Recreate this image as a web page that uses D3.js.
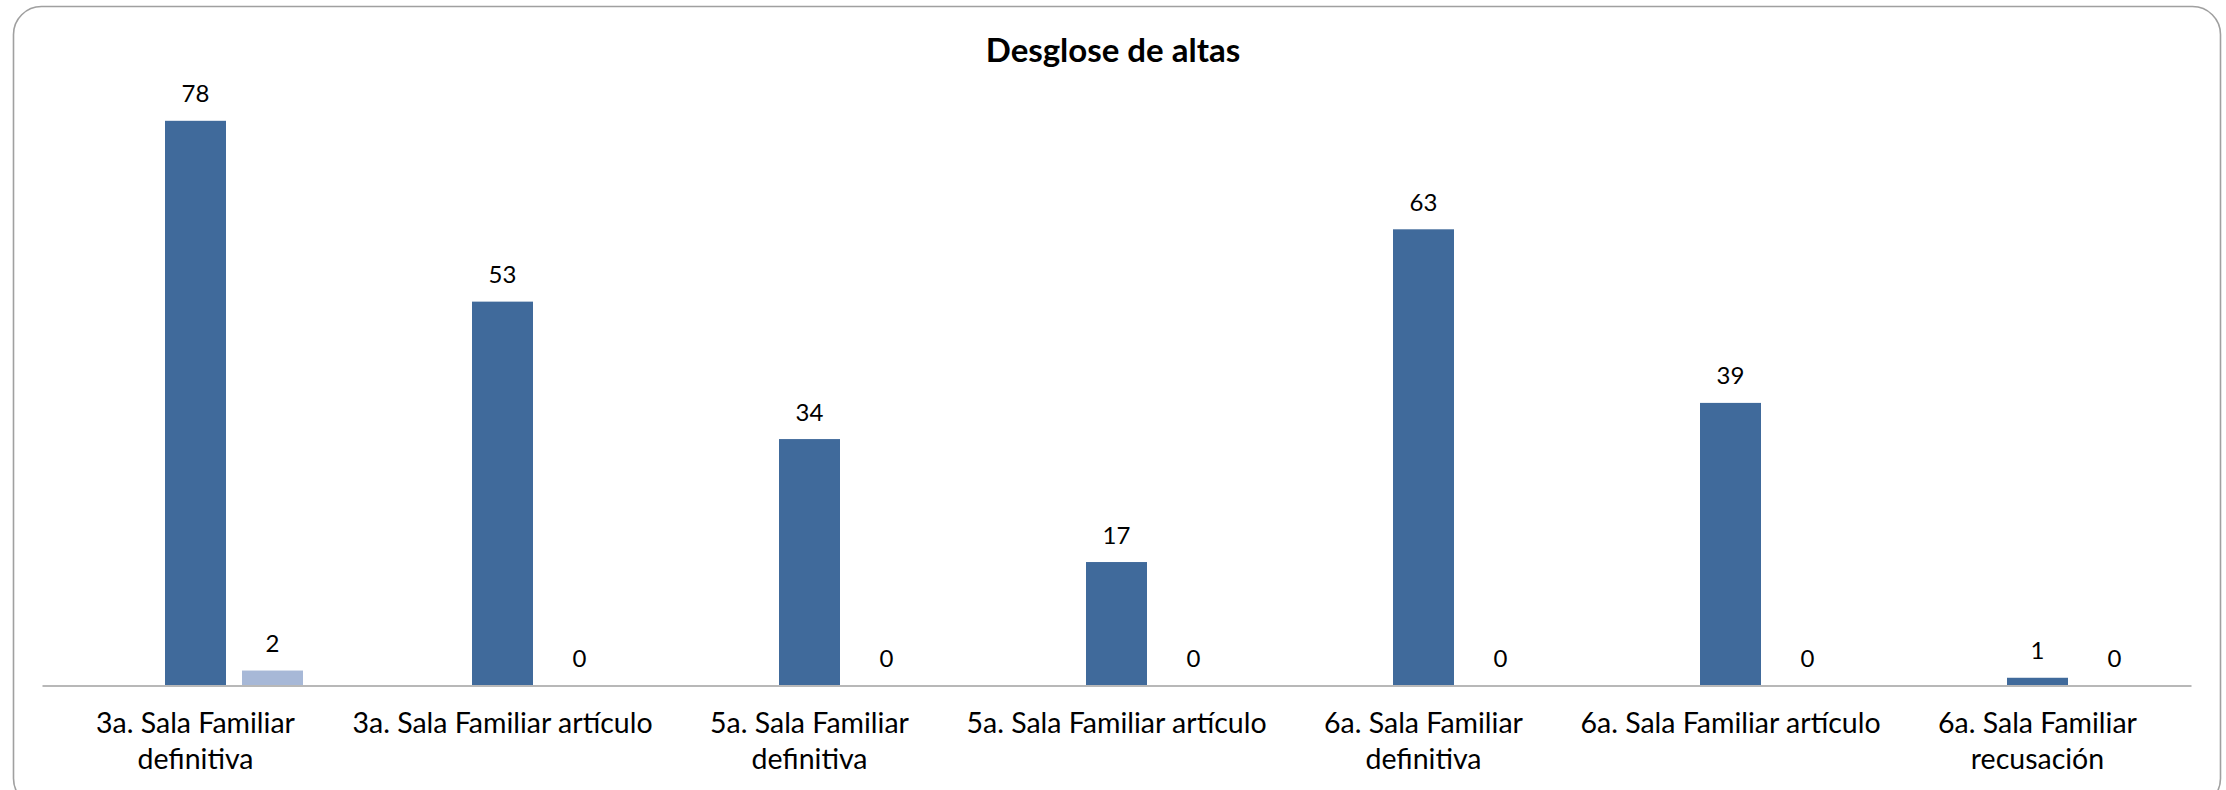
<!DOCTYPE html>
<html>
<head>
<meta charset="utf-8">
<script src="https://cdn.jsdelivr.net/npm/d3@7"></script>
<style>
  body { margin: 0; background: #fff; }
  text { font-family: Lato, "Open Sans", sans-serif; fill: #000; }
</style>
</head>
<body>
<div id="chart"></div>
<script>
// chart data
var categories = [
  "3a. Sala Familiar definitiva",
  "3a. Sala Familiar artículo",
  "5a. Sala Familiar definitiva",
  "5a. Sala Familiar artículo",
  "6a. Sala Familiar definitiva",
  "6a. Sala Familiar artículo",
  "6a. Sala Familiar recusación"
];
var seriesNames = ["Serie 1", "Serie 2"];
var serie1 = [78, 53, 34, 17, 63, 39, 1];
var serie2 = [2, 0, 0, 0, 0, 0, 0];
var colors = ["#406a9b", "#a7b8d7"];

var svgWidth = 2226;
var svgHeight = 790;

var margin = {top: 34, right: 35, bottom: 105, left: 42};
var width = svgWidth - margin.left - margin.right;
var height = 685 - margin.top;

var svg = d3.select("#chart")
  .append("svg")
  .attr("width", svgWidth)
  .attr("height", svgHeight);

// rounded frame
svg.append("rect")
  .attr("x", 13.5)
  .attr("y", 6.5)
  .attr("width", 2207)
  .attr("height", 800)
  .attr("rx", 28)
  .attr("fill", "#fff")
  .attr("stroke", "#a0a0a0")
  .attr("stroke-width", 1.6);

svg.append("text")
  .attr("x", svgWidth / 2)
  .attr("y", 62)
  .attr("text-anchor", "middle")
  .style("font-size", "33px")
  .style("font-weight", "bold")
  .text("Desglose de altas");

var chartGroup = svg.append("g")
  .attr("transform", `translate(${margin.left}, ${margin.top})`);

var x0 = d3.scaleBand()
  .domain(categories)
  .range([0, width])
  .padding(0);

var barW = 61;
var barStep = 77;
// second series sits to the right of the first; first bar centred on the category
var x1 = d3.scaleBand()
  .domain(seriesNames)
  .range([0, barStep + barW])
  .paddingInner((barStep - barW) / barStep)
  .paddingOuter(0)
  .align(0);

var y = d3.scaleLinear()
  .domain([0, 90])
  .range([height, 0]);

var rows = categories.map(function(c, i) {
  return {cat: c, values: [serie1[i], serie2[i]]};
});

var groups = chartGroup.selectAll(".grp")
  .data(rows)
  .enter()
  .append("g")
  .attr("class", "grp")
  .attr("transform", d => `translate(${x0(d.cat) + x0.bandwidth() / 2 - x1.bandwidth() / 2}, 0)`);

groups.selectAll("rect")
  .data(d => d.values.map((v, j) => ({name: seriesNames[j], v: v, j: j})))
  .enter()
  .append("rect")
  .attr("x", d => x1(d.name))
  .attr("y", d => y(d.v))
  .attr("width", x1.bandwidth())
  .attr("height", d => height - y(d.v))
  .attr("fill", d => colors[d.j]);

groups.selectAll(".val")
  .data(d => d.values.map((v, j) => ({name: seriesNames[j], v: v})))
  .enter()
  .append("text")
  .attr("class", "val")
  .attr("x", d => x1(d.name) + x1.bandwidth() / 2)
  .attr("y", d => y(d.v) - 18.5)
  .attr("text-anchor", "middle")
  .style("font-size", "24px")
  .text(d => d.v);

// x axis
var xAxis = chartGroup.append("g")
  .attr("transform", `translate(0, ${height + 0.5})`)
  .call(d3.axisBottom(x0).tickSize(0).tickFormat(""));
xAxis.select(".domain").attr("stroke", "#a0a0a0").attr("stroke-width", 1.6);

// category labels, wrapped to the band width
var labelW = x0.bandwidth();
var labels = chartGroup.selectAll(".cat")
  .data(categories)
  .enter()
  .append("text")
  .attr("class", "cat")
  .attr("x", d => x0(d) + x0.bandwidth() / 2)
  .attr("y", height + 48)
  .attr("text-anchor", "middle")
  .style("font-size", "28.5px");

labels.each(function(d) {
  var t = d3.select(this);
  var words = d.split(" ");
  var line = [];
  var tspan = t.append("tspan").attr("x", t.attr("x")).attr("dy", 0);
  words.forEach(function(w) {
    line.push(w);
    tspan.text(line.join(" "));
    if (tspan.node().getComputedTextLength() > labelW && line.length > 1) {
      line.pop();
      tspan.text(line.join(" "));
      line = [w];
      tspan = t.append("tspan").attr("x", t.attr("x")).attr("dy", "35.8px").text(w);
    }
  });
});
</script>
</body>
</html>
